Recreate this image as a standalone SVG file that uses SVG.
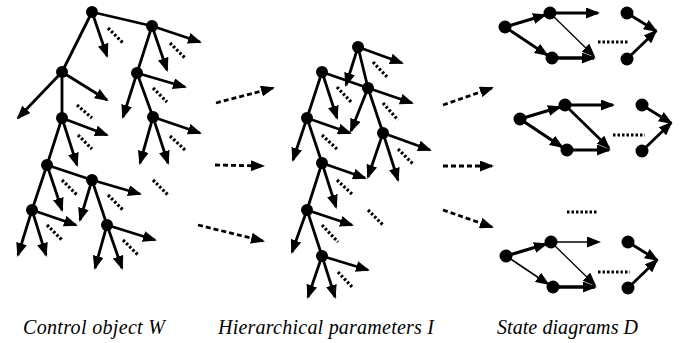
<svg xmlns="http://www.w3.org/2000/svg" width="681" height="343" viewBox="0 0 681 343">
<defs>
<marker id="ah" markerWidth="14" markerHeight="11" refX="12" refY="5.5" orient="auto" markerUnits="userSpaceOnUse"><path d="M0,0 L14,5.5 L0,11 z" fill="#000"/></marker>
<style>
.e{stroke:#000;stroke-width:2.8;fill:none;stroke-linecap:round}
.a{stroke:#000;stroke-width:2.8;fill:none;marker-end:url(#ah)}
.d{stroke:#000;stroke-width:2.8;fill:none;stroke-dasharray:5 3;marker-end:url(#ah)}
.m{stroke:#000;stroke-width:3.2;fill:none;stroke-dasharray:2.5 2}
.w1{stroke-width:1.3}.w15{stroke-width:1.6}.w3{stroke-width:3.3}
.n{fill:#000}
.t{font-family:"Liberation Serif","Times New Roman",serif;font-style:italic;font-size:20px;fill:#000}
</style>
</defs>
<rect width="681" height="343" fill="#fff"/>

<g id="connectors">
<!-- left tree edges -->
<path class="e" d="M92,12 L152,26 M92,12 L62,72 M152,26 L137,73 M62,72 L62,118 M137,73 L153,117 M62,118 L47,165 M47,165 L92,180 M47,165 L32,210 M92,180 L107,225"/>
<path class="a" d="M92,12 L107,56"/>
<path class="a" d="M152,26 L200,42"/>
<path class="a" d="M152,26 L167,70"/>
<path class="a" d="M62,72 L18,118"/>
<path class="a" d="M62,72 L107,100"/>
<path class="a" d="M137,73 L185,87"/>
<path class="a" d="M137,73 L123,117"/>
<path class="a" d="M62,118 L107,135"/>
<path class="a" d="M62,118 L77,165"/>
<path class="a" d="M153,117 L200,133"/>
<path class="a" d="M153,117 L140,163"/>
<path class="a" d="M153,117 L168,163"/>
<path class="a" d="M47,165 L62,210"/>
<path class="a" d="M92,180 L140,194"/>
<path class="a" d="M92,180 L80,220"/>
<path class="a" d="M32,210 L76,225"/>
<path class="a" d="M32,210 L18,255"/>
<path class="a" d="M32,210 L46,255"/>
<path class="a" d="M107,225 L155,240"/>
<path class="a" d="M107,225 L95,268"/>
<path class="a" d="M107,225 L122,268"/>
<path class="m" d="M108,28 L123,43 M170,43 L185,58 M77,105 L92,118 M78,135 L92,149 M153,88 L167,102 M170,136 L185,150 M153,180 L168,195 M62,180 L77,195 M108,195 L123,210 M47,225 L62,240 M123,240 L138,255"/>

<!-- middle tree edges -->
<path class="e" d="M358,47 L368,88 M322,72 L368,88 M322,72 L307,118 M368,88 L383,133 M307,118 L322,163 M322,163 L307,210 M307,210 L322,256"/>
<path class="a" d="M358,47 L402,63"/>
<path class="a" d="M358,47 L346,85"/>
<path class="a" d="M322,72 L337,118"/>
<path class="a" d="M368,88 L412,103"/>
<path class="a" d="M368,88 L351,131"/>
<path class="a" d="M307,118 L350,133"/>
<path class="a" d="M307,118 L293,160"/>
<path class="a" d="M383,133 L430,150"/>
<path class="a" d="M383,133 L368,177"/>
<path class="a" d="M383,133 L398,180"/>
<path class="a" d="M322,163 L365,178"/>
<path class="a" d="M322,163 L336,207"/>
<path class="a" d="M307,210 L352,225"/>
<path class="a" d="M307,210 L292,252"/>
<path class="a" d="M322,256 L368,270"/>
<path class="a" d="M322,256 L308,297"/>
<path class="a" d="M322,256 L335,297"/>
<path class="m" d="M373,62 L388,78 M337,87 L352,103 M383,103 L398,120 M322,135 L338,150 M398,149 L413,164 M337,180 L353,195 M368,210 L383,225 M322,225 L338,242 M338,272 L353,288"/>

<!-- transition arrows -->
<path class="d" d="M216,103 L273,88"/>
<path class="d" d="M215,165 L263,166"/>
<path class="d" d="M198,225 L263,241"/>
<path class="d" d="M443,105 L492,88"/>
<path class="d" d="M443,166 L492,166"/>
<path class="d" d="M443,210 L492,227"/>

<!-- state diagram 1 -->
<path class="a w3" d="M505,27 L545,15"/>
<path class="a" d="M505,27 L547,55"/>
<path class="a" d="M550,13 L598,13"/>
<path class="a w1" d="M550,13 L594,56"/>
<path class="a w3" d="M552,58 L594,58"/>
<path class="a" d="M627,13 L656,31"/>
<path class="a" d="M627,59 L656,31"/>
<path class="m" d="M598,42 L628,42"/>
<!-- state diagram 2 -->
<g transform="translate(15,92)">
<path class="a w3" d="M505,27 L545,15"/>
<path class="a w3" d="M505,27 L547,55"/>
<path class="a" d="M550,13 L598,13"/>
<path class="a" d="M550,13 L594,56"/>
<path class="a" d="M552,58 L594,58"/>
<path class="a" d="M627,13 L656,31"/>
<path class="a" d="M627,59 L656,31"/>
<path class="m" d="M598,43 L630,43"/>
</g>
<!-- state diagram 3 -->
<g transform="translate(1,229)">
<path class="a w3" d="M505,27 L545,15"/>
<path class="a w15" d="M505,27 L547,55"/>
<path class="a w15" d="M550,13 L598,13"/>
<path class="a w1" d="M550,13 L594,56"/>
<path class="a w3" d="M552,58 L594,58"/>
<path class="a" d="M627,13 L656,31"/>
<path class="a" d="M627,59 L656,31"/>
<path class="m" d="M597,43 L629,43"/>
</g>
<path class="m" d="M567,212 L598,212"/>
</g>

<!-- left tree nodes -->
<g id="w-a"><circle class="n" cx="92" cy="12" r="6"/></g>
<g id="w-b"><circle class="n" cx="152" cy="26" r="6"/></g>
<g id="w-c"><circle class="n" cx="62" cy="72" r="6"/></g>
<g id="w-d"><circle class="n" cx="137" cy="73" r="6"/></g>
<g id="w-e"><circle class="n" cx="62" cy="118" r="6"/></g>
<g id="w-f"><circle class="n" cx="153" cy="117" r="6"/></g>
<g id="w-g"><circle class="n" cx="47" cy="165" r="6"/></g>
<g id="w-h"><circle class="n" cx="92" cy="180" r="6"/></g>
<g id="w-i"><circle class="n" cx="32" cy="210" r="6"/></g>
<g id="w-j"><circle class="n" cx="107" cy="225" r="6"/></g>

<!-- middle tree nodes -->
<g id="i-k"><circle class="n" cx="358" cy="47" r="6"/></g>
<g id="i-l"><circle class="n" cx="322" cy="72" r="6"/></g>
<g id="i-m"><circle class="n" cx="368" cy="88" r="6"/></g>
<g id="i-n"><circle class="n" cx="307" cy="118" r="6"/></g>
<g id="i-o"><circle class="n" cx="383" cy="133" r="6"/></g>
<g id="i-p"><circle class="n" cx="322" cy="163" r="6"/></g>
<g id="i-q"><circle class="n" cx="307" cy="210" r="6"/></g>
<g id="i-r"><circle class="n" cx="322" cy="256" r="6"/></g>

<!-- state diagram nodes -->
<g id="d1-s1"><circle class="n" cx="505" cy="27" r="6.5"/></g>
<g id="d1-s2"><circle class="n" cx="550" cy="13" r="6.5"/></g>
<g id="d1-s3"><circle class="n" cx="552" cy="58" r="6.5"/></g>
<g id="d1-r1"><circle class="n" cx="627" cy="13" r="6.5"/></g>
<g id="d1-r2"><circle class="n" cx="627" cy="59" r="6.5"/></g>
<g id="d2-s1"><circle class="n" cx="520" cy="119" r="6.5"/></g>
<g id="d2-s2"><circle class="n" cx="565" cy="105" r="6.5"/></g>
<g id="d2-s3"><circle class="n" cx="567" cy="150" r="6.5"/></g>
<g id="d2-r1"><circle class="n" cx="642" cy="105" r="6.5"/></g>
<g id="d2-r2"><circle class="n" cx="642" cy="151" r="6.5"/></g>
<g id="d3-s1"><circle class="n" cx="506" cy="256" r="6.5"/></g>
<g id="d3-s2"><circle class="n" cx="551" cy="242" r="6.5"/></g>
<g id="d3-s3"><circle class="n" cx="553" cy="287" r="6.5"/></g>
<g id="d3-r1"><circle class="n" cx="628" cy="242" r="6.5"/></g>
<g id="d3-r2"><circle class="n" cx="628" cy="288" r="6.5"/></g>

<g id="labels">
<text class="t" x="23" y="334" textLength="142" lengthAdjust="spacing">Control object W</text>
<text class="t" x="218" y="334" textLength="216" lengthAdjust="spacing">Hierarchical parameters I</text>
<text class="t" x="497" y="334" textLength="141" lengthAdjust="spacing">State diagrams D</text>
</g>
</svg>
